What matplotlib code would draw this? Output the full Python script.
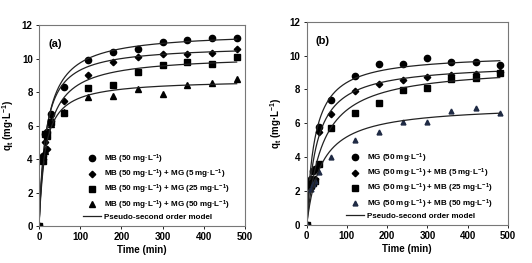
import numpy as np
import matplotlib
matplotlib.use("Agg")
import matplotlib.pyplot as plt

plt.rcParams['font.family'] = ['Liberation Sans', 'DejaVu Sans']
plt.rcParams['mathtext.fontset'] = 'custom'
plt.rcParams['mathtext.rm'] = 'Liberation Sans:bold'
plt.rcParams['mathtext.it'] = 'Liberation Sans:bold'
plt.rcParams['mathtext.bf'] = 'Liberation Sans:bold'

time_min = [0, 10, 15, 20, 30, 60, 120, 180, 240, 300, 360, 420, 480]

# Panel (a)
a_labels = ["MB (50 mg·L$^{-1}$)",
            "MB (50 mg·L$^{-1}$) + MG (5 mg·L$^{-1}$)",
            "MB (50 mg·L$^{-1}$) + MG (25 mg·L$^{-1}$)",
            "MB (50 mg·L$^{-1}$) + MG (50 mg·L$^{-1}$)"]
a_mb = [0, 4.2, 5.5, 5.6, 6.7, 8.3, 9.9, 10.4, 10.6, 11.0, 11.1, 11.2, 11.25]
a_mb_mg5 = [0, 4.0, 5.0, 4.6, 6.3, 7.45, 9.0, 9.8, 10.1, 10.25, 10.3, 10.35, 10.55]
a_mb_mg25 = [0, 3.9, 5.5, 5.4, 6.2, 6.75, 8.25, 8.4, 9.2, 9.6, 9.8, 9.65, 10.1]
a_mb_mg50 = [0, 4.1, 4.5, 5.5, 6.1, 6.8, 7.7, 7.75, 8.2, 7.9, 8.4, 8.55, 8.8]
a_qe = [11.6, 10.8, 10.2, 8.75]
a_k = [0.0525 / 11.6, 0.0625 / 10.8, 0.050 / 10.2, 0.070 / 8.75]

# Panel (b)
b_labels = ["MG (50 mg·L$^{-1}$)",
            "MG (50 mg·L$^{-1}$) + MB (5 mg·L$^{-1}$)",
            "MG (50 mg·L$^{-1}$) + MB (25 mg·L$^{-1}$)",
            "MG (50 mg·L$^{-1}$) + MB (50 mg·L$^{-1}$)"]
b_mg = [0, 2.7, 3.2, 3.3, 5.8, 7.4, 8.8, 9.5, 9.5, 9.85, 9.65, 9.6, 9.45]
b_mg_mb5 = [0, 2.2, 2.6, 2.7, 5.5, 6.55, 7.9, 8.3, 8.55, 8.75, 8.85, 8.9, 9.05]
b_mg_mb25 = [0, 2.4, 2.5, 2.6, 3.6, 5.7, 6.6, 7.2, 7.95, 8.1, 8.6, 8.65, 8.95]
b_mg_mb50 = [0, 2.1, 2.4, 2.6, 3.1, 4.0, 5.0, 5.5, 6.1, 6.05, 6.75, 6.9, 6.6]
b_qe = [10.1, 9.55, 9.4, 7.1]
b_k = [0.050 / 10.1, 0.040 / 9.55, 0.026 / 9.4, 0.0275 / 7.1]

model_label = "Pseudo-second order model"
xticks = [0, 100, 200, 300, 400, 500]
yticks = [0, 2, 4, 6, 8, 10, 12]

markers = ['o', 'D', 's', '^']
msizes = [4.5, 3.3, 4.5, 4.5]
colors_a = ['black', 'black', 'black', 'black']
colors_b = ['black', 'black', 'black', '#1f2a44']
msizes_b = [4.5, 3.3, 4.5, 3.5]

fig = plt.figure(figsize=(5.32, 2.63), dpi=100)
axA = fig.add_axes([0.0733, 0.1407, 0.387, 0.764])
axB = fig.add_axes([0.5765, 0.1445, 0.378, 0.773])

def draw(ax, series, labels, qe, k, colors, sizes, tag):
    tt = np.linspace(0, 480, 400)
    handles = []
    for i, (s, lab) in enumerate(zip(series, labels)):
        h, = ax.plot(time_min, s, linestyle='none', marker=markers[i],
                     ms=sizes[i], color=colors[i], mec=colors[i], label=lab)
        handles.append(h)
        q = qe[i] ** 2 * k[i] * tt / (1 + qe[i] * k[i] * tt)
        ln, = ax.plot(tt, q, color='#222222', lw=0.9)
    ln.set_label(model_label)
    handles.append(ln)
    ax.set_xlim(0, 500)
    ax.set_ylim(0, 12)
    ax.set_xticks(xticks)
    ax.set_yticks(yticks)
    ax.tick_params(labelsize=7, length=2.5, width=0.6, direction='out', pad=2)
    for lbl in ax.get_xticklabels() + ax.get_yticklabels():
        lbl.set_fontweight('bold')
    for sp in ax.spines.values():
        sp.set_color('#777777')
        sp.set_linewidth(0.8)
    ax.set_xlabel("Time (min)", fontsize=7, fontweight='bold', labelpad=2)
    ax.set_ylabel("q$_t$ (mg·L$^{-1}$)", fontsize=7, fontweight='bold', labelpad=4)
    ax.text(0.045, 0.93, tag, transform=ax.transAxes, fontsize=8,
            fontweight='bold', va='top')
    leg = ax.legend(handles=handles, loc='lower right', frameon=False,
                    prop={'weight': 'bold', 'size': 5.8},
                    handlelength=2.2, handletextpad=0.4, labelspacing=0.25,
                    borderaxespad=0.2, bbox_to_anchor=(0.95, 0.0))
    return leg

draw(axA, [a_mb, a_mb_mg5, a_mb_mg25, a_mb_mg50], a_labels, a_qe, a_k,
     colors_a, msizes, "(a)")
draw(axB, [b_mg, b_mg_mb5, b_mg_mb25, b_mg_mb50], b_labels, b_qe, b_k,
     colors_b, msizes_b, "(b)")

fig.savefig("out.png", dpi=100)
